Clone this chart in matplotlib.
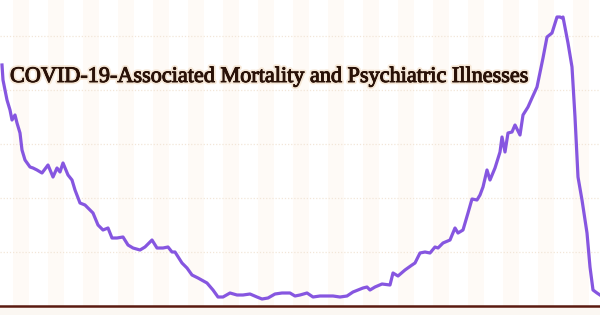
import numpy as np
import matplotlib.pyplot as plt
import matplotlib.patheffects as pe

# ── data (day index, weekly deaths-like value) ─────────────────────────────
day = [2, 3, 7, 10, 12, 15, 17, 20, 22, 25, 30, 33, 37, 42, 48, 53, 57, 60, 63,
       68, 72, 75, 80, 85, 88, 93, 98, 103, 108, 112, 117, 123, 128, 133, 140,
       145, 152, 157, 163, 168, 172, 175, 182, 187, 192, 198, 207, 213, 218,
       223, 230, 237, 243, 250, 257, 262, 268, 275, 282, 290, 295, 300, 307,
       313, 320, 327, 333, 340, 347, 353, 363, 367, 370, 375, 382, 390, 393,
       398, 405, 412, 415, 420, 425, 430, 435, 438, 443, 450, 455, 458, 463,
       468, 472, 477, 480, 483, 487, 490, 495, 500, 502, 505, 508, 512, 515,
       520, 523, 528, 532, 537, 543, 547, 552, 557, 560, 562, 563, 568, 572,
       575, 578, 582, 587, 590, 593, 597, 600]
value = [2410, 2260, 2060, 1960, 1860, 1910, 1830, 1730, 1560, 1460, 1390, 1380,
         1360, 1330, 1410, 1290, 1380, 1340, 1430, 1310, 1260, 1160, 1030, 1010,
         980, 930, 810, 760, 780, 680, 680, 690, 610, 580, 560, 590, 660, 580,
         580, 590, 540, 540, 430, 380, 310, 280, 230, 160, 90, 90, 130, 110,
         110, 120, 90, 70, 80, 120, 130, 130, 100, 110, 130, 90, 100, 100, 100,
         90, 100, 140, 180, 190, 160, 190, 220, 210, 330, 300, 360, 410, 430,
         530, 540, 530, 590, 580, 630, 660, 780, 730, 760, 930, 1070, 1060,
         1110, 1190, 1360, 1260, 1380, 1540, 1690, 1540, 1730, 1740, 1810,
         1710, 1910, 1990, 2080, 2190, 2480, 2690, 2730, 2890, 2890, 2880,
         2890, 2630, 2390, 1890, 1290, 1060, 730, 390, 160, 130, 110]
title = 'COVID-19-Associated Mortality and Psychiatric Illnesses'

PURPLE = '#8656e0'
BROWN = '#5a1a10'
INK = '#2a1208'

fig = plt.figure(figsize=(6, 3.15), dpi=100)
fig.patch.set_facecolor('#fbf7f2')
ax = fig.add_axes([0, 0, 1, 1])
ax.set_facecolor('white')
ax.set_xlim(0, 600)
ax.set_ylim(-90, 3060)

# faint vertical bands
for x0 in np.arange(13, 600, 35):
    ax.axvspan(x0, x0 + 16, color='#fefaf6', lw=0, zorder=0)
ax.axhspan(-90, 0, color='#fbf7f2', lw=0, zorder=0)

# dotted horizontal grid
for g in np.arange(540, 3000, 540):
    ax.axhline(g, color='#f2e6d8', lw=0.9, ls=(0, (1, 1.5)), zorder=1)

ax.axhline(0, color=BROWN, lw=1.8, zorder=3)
ax.plot(day, value, color=PURPLE, lw=2.3, solid_joinstyle='round', zorder=4)

for s in ax.spines.values():
    s.set_visible(False)
ax.set_xticks([]); ax.set_yticks([])

ax.text(10, 2285, title, fontsize=16, family='Liberation Serif',
        color=INK, va='center', ha='left', zorder=5,
        path_effects=[pe.withStroke(linewidth=3.2, foreground='#f6e8d8'),
                      pe.withStroke(linewidth=0.7, foreground=INK)])

plt.savefig('out.png', dpi=100)
